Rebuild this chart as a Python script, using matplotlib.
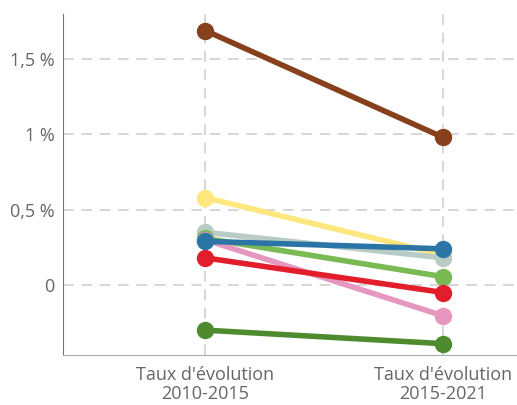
import matplotlib
matplotlib.use("Agg")
import matplotlib.pyplot as plt
from matplotlib.ticker import FuncFormatter

categories = ["Taux d'évolution\n2010-2015", "Taux d'évolution\n2015-2021"]

# taux d'évolution annuel moyen (%), par série
yellow = [0.58, 0.20]
grey = [0.35, 0.18]
green = [0.31, 0.055]
pink = [0.30, -0.205]
red = [0.18, -0.05]
blue = [0.29, 0.24]
dark_green = [-0.30, -0.39]
brown = [1.69, 0.98]

SERIES = [
    (yellow, "#fee77e"),
    (grey, "#b8cbc4"),
    (green, "#7aba55"),
    (pink, "#e597c0"),
    (red, "#e31e2b"),
    (blue, "#2a74a6"),
    (dark_green, "#4e8a2e"),
    (brown, "#86401c"),
]

plt.rcParams["font.family"] = ["Open Sans", "DejaVu Sans"]

fig = plt.figure(figsize=(5.17, 4.05), dpi=100)
ax = fig.add_axes([0.122, 0.1235, 0.878, 0.842])

xs = [0, 1]
for vals, color in SERIES:
    ax.plot(xs, vals, color=color, lw=4.0, marker="o", ms=11.5,
            solid_capstyle="round", zorder=3)

ax.set_xlim(-0.597, 1.31)
ax.set_ylim(-0.465, 1.80)
ax.set_yticks([0, 0.5, 1.0, 1.5])
ax.yaxis.set_major_formatter(FuncFormatter(
    lambda v, _: "0" if v == 0 else (f"{v:g} %").replace(".", ",")))
ax.set_xticks(xs)
ax.set_xticklabels(categories, linespacing=1.05)

ax.grid(True, color="#cccccc", ls=(0, (7, 5)), lw=1.1, zorder=0)
for s in ("top", "right"):
    ax.spines[s].set_visible(False)
ax.spines["left"].set_color("#777777")
ax.spines["bottom"].set_color("#aaaaaa")
ax.tick_params(axis="both", length=0, colors="#666666", labelsize=13)
ax.tick_params(axis="y", pad=6)
ax.tick_params(axis="x", pad=8)

fig.savefig("out.png", dpi=100)
